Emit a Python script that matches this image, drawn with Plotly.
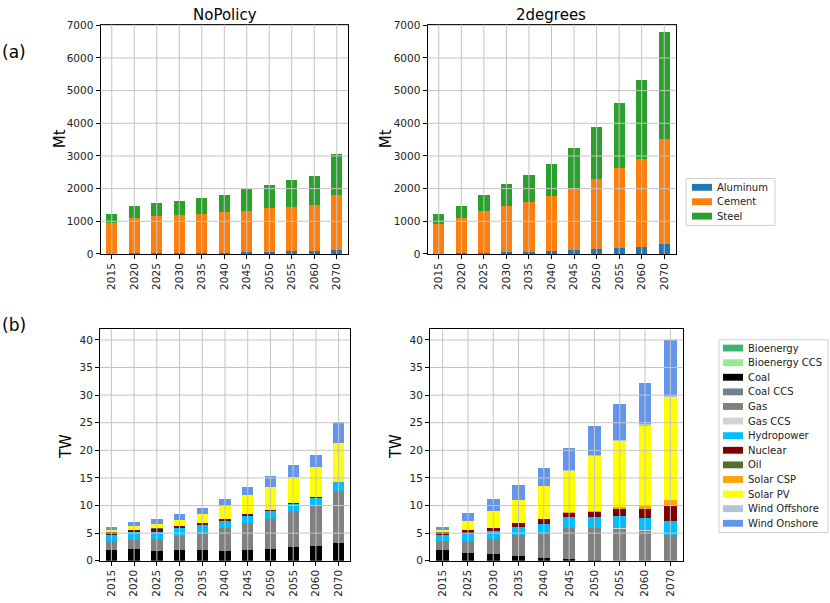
import plotly.graph_objects as go

# ---------------- data ----------------
years_mt = ["2015", "2020", "2025", "2030", "2035", "2040", "2045", "2050", "2055", "2060", "2070"]
years_tw_np = ["2015", "2020", "2025", "2030", "2035", "2040", "2045", "2050", "2055", "2060", "2070"]
years_tw_2d = ["2015", "2025", "2030", "2035", "2040", "2045", "2050", "2055", "2060", "2070"]

materials = ["Aluminum", "Cement", "Steel"]
aluminum_np = [10, 15, 20, 25, 35, 40, 60, 65, 85, 90, 130]
cement_np = [930, 1085, 1140, 1155, 1195, 1250, 1270, 1335, 1355, 1410, 1660]
steel_np = [280, 360, 400, 450, 490, 520, 670, 710, 820, 900, 1260]

aluminum_2d = [5, 15, 40, 50, 75, 90, 130, 150, 190, 210, 300]
cement_2d = [925, 1085, 1270, 1410, 1525, 1670, 1870, 2130, 2430, 2700, 3220]
steel_2d = [290, 360, 500, 670, 830, 1000, 1250, 1620, 2000, 2410, 3280]

techs = ["Bioenergy", "Bioenergy CCS", "Coal", "Coal CCS", "Gas", "Gas CCS", "Hydropower",
         "Nuclear", "Oil", "Solar CSP", "Solar PV", "Wind Offshore", "Wind Onshore"]

# NoPolicy (TW)
bio_np = [0] * 11
bioccs_np = [0] * 11
coal_np = [1.9, 2.1, 1.8, 1.9, 1.9, 1.8, 1.95, 2.1, 2.45, 2.7, 3.3]
coalccs_np = [0] * 11
gas_np = [1.6, 1.6, 2.15, 2.5, 3.2, 4.04, 4.95, 5.55, 6.5, 7.3, 9.4]
gasccs_np = [0] * 11
hydro_np = [1.15, 1.45, 1.25, 1.45, 1.4, 1.36, 1.3, 1.35, 1.35, 1.45, 1.5]
nuclear_np = [0.45, 0.35, 0.55, 0.4, 0.35, 0.35, 0.3, 0.2, 0.1, 0.05, 0.05]
oil_np = [0.15, 0.1, 0.1, 0.08, 0.05, 0.05, 0.03, 0.02, 0.02, 0.0, 0.0]
csp_np = [0] * 11
pv_np = [0.4, 0.65, 0.75, 0.97, 1.57, 2.35, 3.32, 4.21, 4.83, 5.4, 7.15]
offshore_np = [0] * 11
onshore_np = [0.45, 0.7, 1.0, 1.08, 1.07, 1.3, 1.55, 1.97, 2.1, 2.3, 3.7]

# 2degrees (TW)
bio_2d = [0] * 10
bioccs_2d = [0] * 10
coal_2d = [1.9, 1.33, 1.2, 0.92, 0.52, 0.25, 0.02, 0.0, 0.0, 0.0]
coalccs_2d = [0] * 10
gas_2d = [1.6, 2.25, 2.75, 3.7, 4.53, 5.65, 5.85, 5.8, 5.33, 4.67]
gasccs_2d = [0, 0, 0, 0, 0, 0.1, 0.15, 0.2, 0.2, 0.05]
hydro_2d = [1.15, 1.39, 1.47, 1.53, 1.65, 1.9, 1.95, 2.08, 2.27, 2.52]
nuclear_2d = [0.45, 0.58, 0.55, 0.67, 0.9, 0.8, 0.95, 1.3, 1.64, 2.86]
oil_2d = [0.15, 0.07, 0.05, 0.03, 0.02, 0.0, 0.0, 0.0, 0.0, 0.0]
csp_2d = [0, 0, 0, 0, 0, 0.05, 0.1, 0.27, 0.49, 0.9]
pv_2d = [0.4, 1.66, 2.98, 4.21, 5.83, 7.55, 9.95, 12.05, 14.47, 18.7]
offshore_2d = [0, 0, 0, 0, 0, 0.05, 0.1, 0.2, 0.3, 0.2]
onshore_2d = [0.45, 1.39, 2.14, 2.68, 3.35, 4.05, 5.25, 6.55, 7.5, 10.0]

mt_ticks = [0, 1000, 2000, 3000, 4000, 5000, 6000, 7000]
tw_ticks = [0, 5, 10, 15, 20, 25, 30, 35, 40]

# ---------------- styles ----------------
mat_colors = {"Aluminum": "#1f77b4", "Cement": "#ff7f0e", "Steel": "#2ca02c"}
tech_colors = {
    "Bioenergy": "#3cb371", "Bioenergy CCS": "#90ee90", "Coal": "#000000",
    "Coal CCS": "#708090", "Gas": "#808080", "Gas CCS": "#d3d3d3",
    "Hydropower": "#00bfff", "Nuclear": "#800000", "Oil": "#556b2f",
    "Solar CSP": "#ffa500", "Solar PV": "#ffff00", "Wind Offshore": "#b0c4de",
    "Wind Onshore": "#6495ed",
}
FONT = "DejaVu Sans"

fig = go.Figure()

mt_np = [aluminum_np, cement_np, steel_np]
mt_2d = [aluminum_2d, cement_2d, steel_2d]
for name, vals in zip(materials, mt_np):
    fig.add_trace(go.Bar(x=years_mt, y=vals, name=name, marker_color=mat_colors[name],
                         marker_line_width=0, xaxis="x", yaxis="y"))
for name, vals in zip(materials, mt_2d):
    fig.add_trace(go.Bar(x=years_mt, y=vals, name=name, marker_color=mat_colors[name],
                         marker_line_width=0, xaxis="x2", yaxis="y2"))

tw_np = [bio_np, bioccs_np, coal_np, coalccs_np, gas_np, gasccs_np, hydro_np, nuclear_np,
         oil_np, csp_np, pv_np, offshore_np, onshore_np]
tw_2d = [bio_2d, bioccs_2d, coal_2d, coalccs_2d, gas_2d, gasccs_2d, hydro_2d, nuclear_2d,
         oil_2d, csp_2d, pv_2d, offshore_2d, onshore_2d]
for name, vals in zip(techs, tw_np):
    fig.add_trace(go.Bar(x=years_tw_np, y=vals, name=name, marker_color=tech_colors[name],
                         marker_line_width=0, xaxis="x3", yaxis="y3"))
for name, vals in zip(techs, tw_2d):
    fig.add_trace(go.Bar(x=years_tw_2d, y=vals, name=name, marker_color=tech_colors[name],
                         marker_line_width=0, xaxis="x4", yaxis="y4"))

W, H = 830, 603


def px_x(v):
    return v / W


def px_y(v):
    return 1 - v / H


common_x = dict(type="category", showline=True, mirror=True, linecolor="black", linewidth=1,
                ticks="outside", ticklen=4, tickcolor="black", showgrid=False,
                tickangle=-90, tickfont=dict(family=FONT, size=10.5, color="#222"), zeroline=False)
common_y = dict(showline=True, mirror=True, linecolor="black", linewidth=1,
                ticks="outside", ticklen=4, tickcolor="black", showgrid=False,
                tickfont=dict(family=FONT, size=10.5, color="#222"), zeroline=False)

top_dom = [px_y(253), px_y(19)]
bot_dom = [px_y(566), px_y(330)]

n_mt = len(years_mt)
n_np = len(years_tw_np)
n_2d = len(years_tw_2d)

fig.update_layout(
    width=W, height=H, margin=dict(l=0, r=0, t=0, b=0),
    paper_bgcolor="white", plot_bgcolor="white",
    barmode="stack", bargap=0.5, showlegend=False,
    xaxis=dict(common_x, domain=[px_x(100.5), px_x(348)], anchor="y", range=[-0.5, n_mt - 0.5]),
    yaxis=dict(common_y, domain=top_dom, anchor="x", range=[0, 7020], tickvals=mt_ticks),
    xaxis2=dict(common_x, domain=[px_x(427.5), px_x(675.5)], anchor="y2", range=[-0.5, n_mt - 0.5]),
    yaxis2=dict(common_y, domain=top_dom, anchor="x2", range=[0, 7020], tickvals=mt_ticks),
    xaxis3=dict(common_x, domain=[px_x(100), px_x(350)], anchor="y3", range=[-0.5, n_np - 0.5]),
    yaxis3=dict(common_y, domain=bot_dom, anchor="x3", range=[0, 41.9], tickvals=tw_ticks),
    xaxis4=dict(common_x, domain=[px_x(430), px_x(683)], anchor="y4", range=[-0.5, n_2d - 0.5]),
    yaxis4=dict(common_y, domain=bot_dom, anchor="x4", range=[0, 41.9], tickvals=tw_ticks),
)

# grid lines drawn above bars (matplotlib default look)
shapes = []
grid_style = dict(color="#c4c4c4", width=1)
for xa, ya, cats, ticks in [("x", "y", years_mt, mt_ticks), ("x2", "y2", years_mt, mt_ticks),
                            ("x3", "y3", years_tw_np, tw_ticks), ("x4", "y4", years_tw_2d, tw_ticks)]:
    for i in range(len(cats)):
        shapes.append(dict(type="line", xref=xa, yref=ya + " domain", x0=i, x1=i, y0=0, y1=1,
                           line=grid_style, layer="above"))
    for t in ticks[1:]:
        shapes.append(dict(type="line", xref=xa + " domain", yref=ya, x0=0, x1=1, y0=t, y1=t,
                           line=grid_style, layer="above"))

ann = []


def add_text(txt, xx, yy, size, angle=0, xanchor="center", color="black"):
    ann.append(dict(text=txt, x=px_x(xx), y=px_y(yy), xref="paper", yref="paper",
                    xanchor=xanchor, yanchor="middle", showarrow=False, textangle=angle,
                    font=dict(family=FONT, size=size, color=color)))


# legends (matplotlib-style boxes: 20px swatch, ~15px row spacing)
def add_legend(names, colors, box_l, box_r, box_t, first_y, step, sw_l):
    box_b = first_y + step * (len(names) - 1) + 9.5
    shapes.append(dict(type="rect", xref="paper", yref="paper",
                       x0=px_x(box_l), x1=px_x(box_r), y0=px_y(box_b), y1=px_y(box_t),
                       line=dict(color="#d0d0d0", width=1), fillcolor="white", layer="above"))
    for i, nm in enumerate(names):
        cy = first_y + step * i
        shapes.append(dict(type="rect", xref="paper", yref="paper",
                           x0=px_x(sw_l), x1=px_x(sw_l + 20), y0=px_y(cy + 3.5), y1=px_y(cy - 3.5),
                           line=dict(width=0), fillcolor=colors[nm], layer="above"))
        add_text(nm, sw_l + 23, cy, 10, xanchor="left", color="#222")


add_legend(materials, mat_colors, 686, 775, 176, 185, 14.7, 692)
add_legend(techs, tech_colors, 719, 828, 340.5, 349, 14.9, 723)

fig.update_layout(shapes=shapes)

add_text("NoPolicy", 225, 9, 15)
add_text("2degrees", 551, 9, 15)
add_text("(a)", 14, 47, 17)
add_text("(b)", 14, 325, 17)
for txt, xx, yy in [("Mt", 60, 136), ("Mt", 386, 136), ("TW", 66, 450), ("TW", 396, 450)]:
    add_text(txt, xx, yy, 15, -90)
fig.update_layout(annotations=ann)

fig.write_html("out.html", config={"displayModeBar": False},
               post_script="document.body.style.margin='0';")
